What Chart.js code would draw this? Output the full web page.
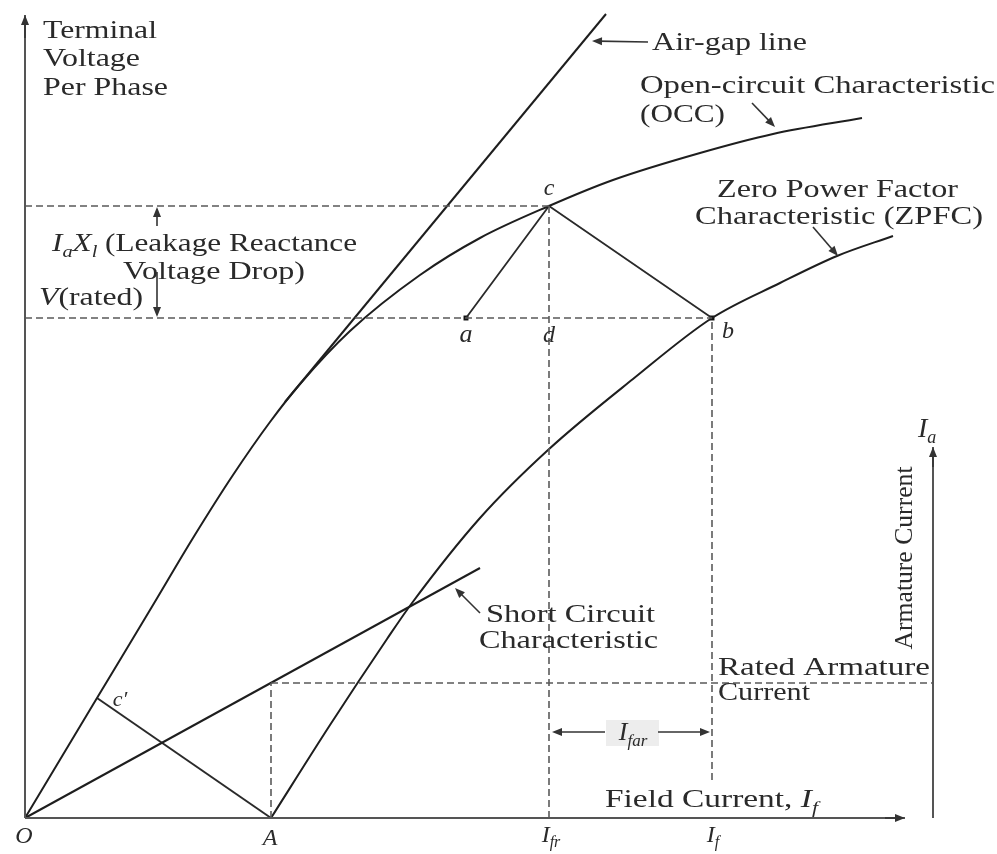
<!DOCTYPE html>
<html>
<head>
<meta charset="utf-8">
<title>Potier Triangle Method</title>
<script src="https://cdn.jsdelivr.net/npm/chart.js@4.4.1/dist/chart.umd.min.js"></script>
<style>
  html, body { margin: 0; padding: 0; background: #fff; }
  canvas { display: block; }
</style>
</head>
<body>
<canvas id="potier" width="997" height="854"></canvas>
<script>
// Field current on x, terminal voltage / armature current on y (drawing units)
const occX  = [0, 72, 128, 168, 208, 245, 275, 325, 395, 455, 524, 588, 675, 748, 837];
const occY  = [0, 120, 213, 280, 343, 396, 434, 487, 543, 580, 612, 638, 665, 684, 700];

const airGapX = [260, 581];
const airGapY = [416, 804];

const zpfcX = [246, 305, 362, 387, 455, 523, 608, 687, 755, 812, 868];
const zpfcY = [0, 93, 179, 215, 300, 368, 439, 500, 535, 562, 582];

const sccX = [0, 455];
const sccY = [0, 250];

// Potier triangle a-c-b and the small triangle O-c'-A
const potierX = [441, 524, 687];
const potierY = [500, 612, 500];
const lowTriX = [72, 246];
const lowTriY = [120, 0];

// Key levels
const vRated = 500;      // V(rated)
const vOcc = 612;        // point c on the OCC
const ifr = 524;         // I_fr
const ifield = 687;      // I_f
const ifA = 246;         // point A
const iaRated = 135;     // rated armature current
const iaAxisX = 908;     // armature current axis
const iaAxisTop = 371;

const pts = (xs, ys) => xs.map((v, i) => ({ x: v, y: ys[i] }));

const FONT = '"Liberation Serif", "Times New Roman", serif';
const INK = '#2a2a2a';

function solid(data, color, width, extra) {
  return Object.assign({ data, showLine: true, borderColor: color, borderWidth: width,
    pointRadius: 0, pointHoverRadius: 0, fill: false }, extra || {});
}
function dashed(data) {
  return solid(data, '#5a5a5a', 1.6, { borderDash: [7, 4] });
}

// annotation text, positioned in data units
const labels = [
  { x: 18, y: 780, w: 114, parts: [['Terminal', '']] },
  { x: 18, y: 752, w: 97, parts: [['Voltage', '']] },
  { x: 18, y: 723, w: 125, parts: [['Per Phase', '']] },
  { x: 627, y: 768, w: 155, parts: [['Air-gap line', '']] },
  { x: 615, y: 725, w: 355, parts: [['Open-circuit Characteristic', '']] },
  { x: 615, y: 696, w: 85, parts: [['(OCC)', '']] },
  { x: 692, y: 621, w: 241, parts: [['Zero Power Factor', '']] },
  { x: 670, y: 594, w: 288, parts: [['Characteristic (ZPFC)', '']] },
  { x: 27, y: 567, w: 305, parts: [['I', 'i'], ['a', 's'], ['X', 'i'], ['l', 's'], [' (Leakage Reactance', '']] },
  { x: 98, y: 539, w: 182, parts: [['Voltage Drop)', '']] },
  { x: 14, y: 513, w: 104, parts: [['V', 'i'], ['(rated)', '']] },
  { x: 461, y: 196, w: 169, parts: [['Short Circuit', '']] },
  { x: 454, y: 170, w: 179, parts: [['Characteristic', '']] },
  { x: 693, y: 143, w: 212, parts: [['Rated Armature', '']] },
  { x: 693, y: 118, w: 92, parts: [['Current', '']] },
  { x: 580, y: 11, w: 213, parts: [['Field Current, ', ''], ['I', 'i'], ['f', 's']] },
  { x: 887, y: 260, w: 183, align: 'center', rot: -Math.PI / 2, parts: [['Armature Current', '']] },
  { x: 893, y: 381, size: 28, parts: [['I', 'i'], ['a', 's']] },
  { x: 524, y: 623, size: 24, align: 'center', parts: [['c', 'i']] },
  { x: 441, y: 476, size: 26, align: 'center', parts: [['a', 'i']] },
  { x: 524, y: 476, size: 24, align: 'center', parts: [['d', 'i']] },
  { x: 703, y: 480, size: 24, align: 'center', parts: [['b', 'i']] },
  { x: 95, y: 112, size: 22, align: 'center', parts: [['c\u2032', 'i']] },
  { x: -1, y: -25, size: 24, align: 'center', parts: [['O', 'i']] },
  { x: 245, y: -27, size: 24, align: 'center', parts: [['A', 'i']] },
  { x: 526, y: -24, size: 24, align: 'center', parts: [['I', 'i'], ['fr', 's']] },
  { x: 688, y: -24, size: 24, align: 'center', parts: [['I', 'i'], ['f', 's']] },
  { x: 608, y: 78, size: 26, align: 'center', parts: [['I', 'i'], ['far', 's']] }
];

// pointer arrows [fromX, fromY, toX, toY]
const arrows = [
  [623, 776, 567, 777],
  [727, 715, 750, 691],
  [788, 591, 813, 562],
  [455, 205, 430, 230],
  [132, 592, 132, 611],
  [132, 546, 132, 501],
  [580, 86, 527, 86],
  [633, 86, 685, 86],
  // axis heads
  [0, 780, 0, 803],
  [860, 0, 880, 0],
  [iaAxisX, iaAxisTop - 20, iaAxisX, iaAxisTop]
];

function fontFor(st, size) {
  if (st === 's') return 'italic ' + Math.round(size * 0.66) + 'px ' + FONT;
  if (st === 'i') return 'italic ' + size + 'px ' + FONT;
  return size + 'px ' + FONT;
}

function drawLabel(ctx, l, X, Y) {
  const size = l.size || 26;
  const segs = l.parts.map(([t, st]) => ({ t, st, f: fontFor(st, size) }));
  let total = 0;
  segs.forEach(s => { ctx.font = s.f; s.w = ctx.measureText(s.t).width; total += s.w; });
  const sx = l.w ? l.w / total : 1;
  ctx.save();
  ctx.translate(X, Y);
  if (l.rot) ctx.rotate(l.rot);
  ctx.scale(sx, 1);
  let cx = l.align === 'center' ? -total / 2 : 0;
  ctx.fillStyle = INK;
  ctx.textBaseline = 'alphabetic';
  segs.forEach(s => {
    ctx.font = s.f;
    ctx.fillText(s.t, cx, s.st === 's' ? size * 0.22 : 0);
    cx += s.w;
  });
  ctx.restore();
}

function drawArrow(ctx, x1, y1, x2, y2) {
  const ang = Math.atan2(y2 - y1, x2 - x1);
  const len = 10, half = 4;
  ctx.strokeStyle = '#333';
  ctx.fillStyle = '#333';
  ctx.lineWidth = 1.6;
  ctx.beginPath();
  ctx.moveTo(x1, y1);
  ctx.lineTo(x2 - Math.cos(ang) * len * 0.6, y2 - Math.sin(ang) * len * 0.6);
  ctx.stroke();
  ctx.beginPath();
  ctx.moveTo(x2, y2);
  ctx.lineTo(x2 - Math.cos(ang) * len + Math.sin(ang) * half, y2 - Math.sin(ang) * len - Math.cos(ang) * half);
  ctx.lineTo(x2 - Math.cos(ang) * len - Math.sin(ang) * half, y2 - Math.sin(ang) * len + Math.cos(ang) * half);
  ctx.closePath();
  ctx.fill();
}

const annotate = {
  id: 'annotate',
  afterDatasetsDraw(chart) {
    const { ctx, scales: { x, y } } = chart;
    const px = v => x.getPixelForValue(v);
    const py = v => y.getPixelForValue(v);
    ctx.save();
    // light box behind the I_far label
    ctx.fillStyle = '#ededed';
    ctx.fillRect(px(581), py(98), px(634) - px(581), py(72) - py(98));
    arrows.forEach(a => drawArrow(ctx, px(a[0]), py(a[1]), px(a[2]), py(a[3])));
    labels.forEach(l => drawLabel(ctx, l, px(l.x), py(l.y)));
    ctx.restore();
  }
};

new Chart(document.getElementById('potier').getContext('2d'), {
  type: 'scatter',
  data: {
    datasets: [
      // axes
      solid([{ x: 0, y: 0 }, { x: 0, y: 803 }], '#555', 2),
      solid([{ x: 0, y: 0 }, { x: 880, y: 0 }], '#555', 2),
      solid([{ x: iaAxisX, y: 0 }, { x: iaAxisX, y: iaAxisTop }], '#555', 2),
      // construction lines
      dashed([{ x: 0, y: vOcc }, { x: ifr, y: vOcc }]),
      dashed([{ x: 0, y: vRated }, { x: ifield, y: vRated }]),
      dashed([{ x: ifr, y: 0 }, { x: ifr, y: vOcc }]),
      dashed([{ x: ifield, y: 38 }, { x: ifield, y: vRated }]),
      dashed([{ x: ifA, y: iaRated }, { x: iaAxisX, y: iaRated }]),
      dashed([{ x: ifA, y: 0 }, { x: ifA, y: iaRated }]),
      // characteristics
      solid(pts(occX, occY), '#1e1e1e', 2, { cubicInterpolationMode: 'monotone' }),
      solid(pts(airGapX, airGapY), '#1e1e1e', 2),
      solid(pts(zpfcX, zpfcY), '#1e1e1e', 2, { cubicInterpolationMode: 'monotone' }),
      solid(pts(sccX, sccY), '#1e1e1e', 2),
      solid(pts(potierX, potierY), '#2a2a2a', 1.8),
      solid(pts(lowTriX, lowTriY), '#2a2a2a', 2),
      // points a and b
      { data: [{ x: potierX[0], y: vRated }, { x: potierX[2], y: vRated }], showLine: false,
        pointStyle: 'rect', pointRadius: 3.5, pointHoverRadius: 3.5, backgroundColor: '#111', borderWidth: 0 }
    ]
  },
  options: {
    responsive: false,
    animation: false,
    layout: { padding: 0, autoPadding: false },
    plugins: { legend: { display: false }, tooltip: { enabled: false } },
    scales: {
      x: { type: 'linear', min: -25, max: 972, display: false },
      y: { type: 'linear', min: -36, max: 818, display: false }
    }
  },
  plugins: [annotate]
});
</script>
</body>
</html>
